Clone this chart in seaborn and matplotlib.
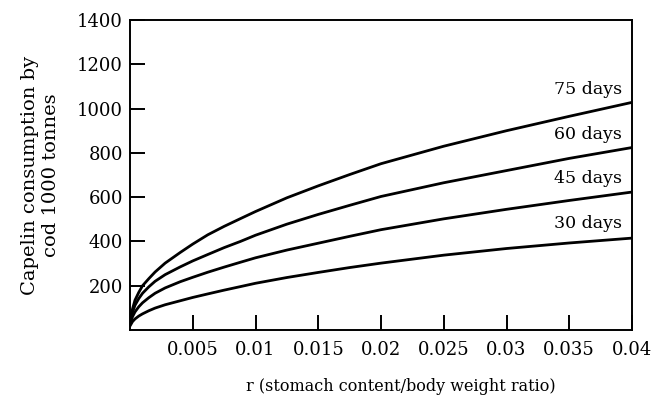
import numpy as np
import pandas as pd
import seaborn as sns
import matplotlib.pyplot as plt

# values
ratio = [0.0, 0.0002, 0.0004, 0.0007, 0.001, 0.0015, 0.002, 0.0028, 0.004, 0.005,
         0.0062, 0.0075, 0.0088, 0.01, 0.0125, 0.015, 0.0175, 0.02, 0.025, 0.03,
         0.035, 0.04]
days_75 = [40, 95, 135, 170, 200, 232, 262, 302, 350, 388,
           430, 468, 503, 535, 597, 651, 702, 751, 830, 900,
           965, 1028]
days_60 = [35, 80, 112, 142, 166, 195, 220, 250, 285, 312,
           341, 372, 400, 428, 478, 522, 563, 603, 665, 720,
           775, 824]
days_45 = [28, 60, 82, 105, 123, 146, 166, 190, 218, 238,
           261, 284, 306, 326, 361, 392, 423, 453, 502, 545,
           585, 623]
days_30 = [18, 38, 50, 63, 73, 87, 99, 114, 132, 147,
           163, 180, 196, 211, 237, 260, 282, 302, 338, 368,
           393, 415]
series_names = ['75 days', '60 days', '45 days', '30 days']
label_y = [1085, 882, 683, 480]

x_ticks = [0.005, 0.01, 0.015, 0.02, 0.025, 0.03, 0.035, 0.04]
x_ticklabels = ['0.005', '0.01', '0.015', '0.02', '0.025', '0.03', '0.035', '0.04']
y_ticks = [200, 400, 600, 800, 1000, 1200, 1400]

df = pd.DataFrame({'r': ratio * 4,
                   'value': days_75 + days_60 + days_45 + days_30,
                   'series': np.repeat(series_names, len(ratio))})

sns.set_theme(style='ticks')
plt.rcParams['font.family'] = ['DejaVu Serif']
plt.rcParams['text.color'] = 'black'
plt.rcParams['axes.labelcolor'] = 'black'
plt.rcParams['xtick.color'] = 'black'
plt.rcParams['ytick.color'] = 'black'

fig = plt.figure(figsize=(6.54, 3.95), dpi=100)
ax = fig.add_axes([130 / 654, 65 / 395, 502 / 654, 310 / 395])

sns.lineplot(data=df, x='r', y='value', units='series', estimator=None,
             color='black', linewidth=2, ax=ax)

for name, yv in zip(series_names, label_y):
    ax.text(0.0392, yv, name, ha='right', va='center', fontsize=12.5)

ax.set_xlim(0, 0.04)
ax.set_ylim(0, 1400)
ax.set_xticks(x_ticks)
ax.set_xticklabels(x_ticklabels)
ax.set_yticks(y_ticks)
ax.tick_params(direction='in', length=11, width=1.4, labelsize=13)
ax.tick_params(axis='x', pad=8)
ax.tick_params(axis='y', pad=5)
for s in ax.spines.values():
    s.set_linewidth(1.4)
    s.set_color('black')

ax.set_xlabel('r (stomach content/body weight ratio)', fontsize=11.5)
ax.xaxis.set_label_coords(0.54, -0.155)
ax.set_ylabel('Capelin consumption by\ncod 1000 tonnes', fontsize=14)
ax.yaxis.set_label_coords(-0.14, 0.5)

plt.savefig('out.png', dpi=100)
